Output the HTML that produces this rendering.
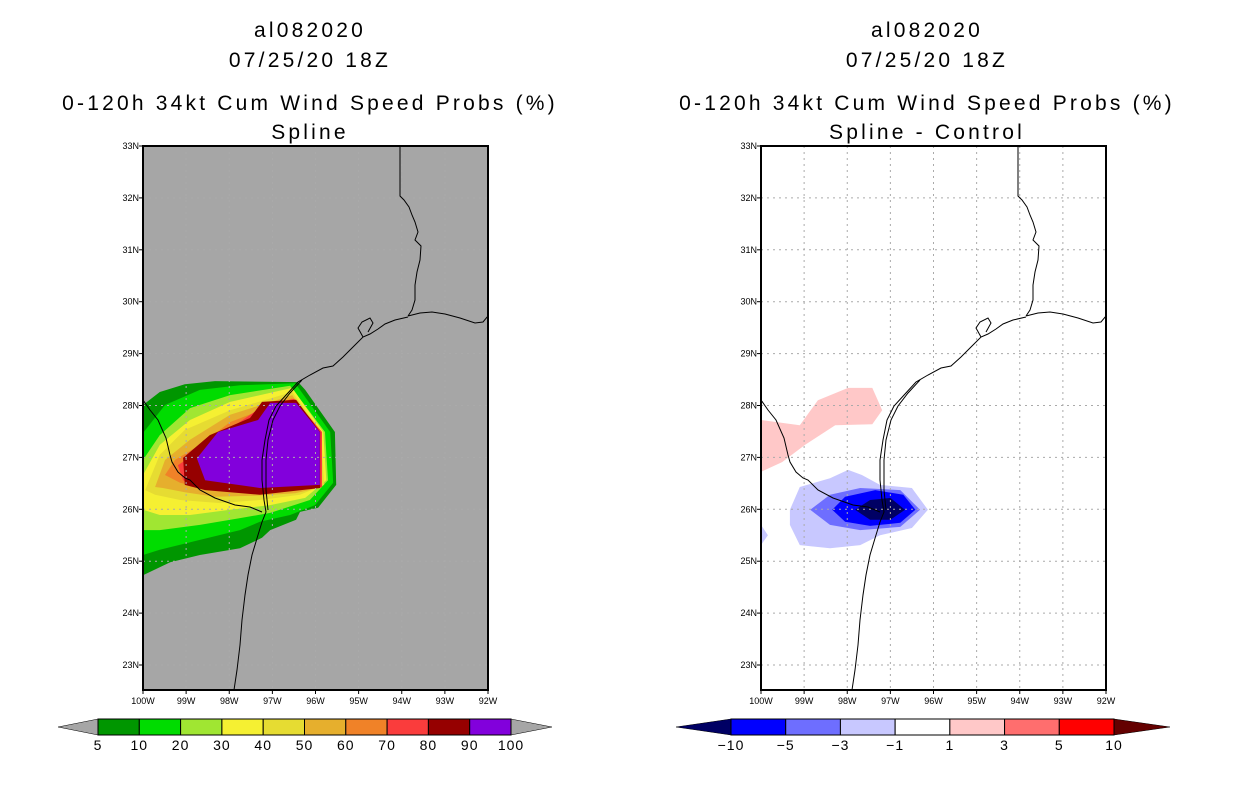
<!DOCTYPE html>
<html><head><meta charset="utf-8"><style>
body{margin:0;background:#fff;width:1236px;height:800px;overflow:hidden}
svg{display:block;font-family:"Liberation Sans",sans-serif}
</style></head><body>
<svg id="s" width="1236" height="800" xmlns="http://www.w3.org/2000/svg">
<defs>
<clipPath id="cl"><rect x="143" y="146" width="345" height="544"/></clipPath>
<clipPath id="cr"><rect x="761" y="146" width="345" height="544"/></clipPath>
</defs>
</svg>
<script>
// ---- data ----
const lonTicks=[100,99,98,97,96,95,94,93,92];
const latTicks=[33,32,31,30,29,28,27,26,25,24,23];
const leftLevels=['5','10','20','30','40','50','60','70','80','90','100'];
const leftColors=['#009600','#00dc00','#a0e632','#f5f032','#e6dc32','#e6af2d','#f08228','#fa3c3c','#960000','#8200dc'];
const rightLevels=['-10','-5','-3','-1','1','3','5','10'];
const rightColors=['#0000ff','#6e6eff','#c8c8ff','#ffffff','#ffc8c8','#ff6e6e','#ff0000'];
// contour polygons (lon W, lat N), outer to inner
const c5=[[100,28.01],[99.61,28.26],[99.03,28.41],[98.33,28.47],[96.4,28.45],[96.24,28.3],[95.55,27.49],[95.52,26.47],[95.94,26.03],[96.36,25.95],[96.45,25.8],[97.05,25.6],[97.24,25.45],[97.75,25.25],[98.68,25.12],[99.37,24.98],[100,24.73]];
const c10=[[100,27.47],[99.49,28.01],[98.68,28.3],[97.75,28.39],[96.47,28.43],[95.66,27.49],[95.59,26.51],[96.01,26.08],[96.59,25.89],[97.29,25.76],[97.75,25.6],[98.68,25.41],[99.61,25.22],[100,25.12]];
const c20=[[100,26.95],[99.61,27.43],[98.91,27.95],[97.98,28.2],[96.59,28.38],[95.78,27.49],[95.71,26.56],[96.13,26.18],[97.05,25.93],[97.75,25.83],[98.68,25.7],[99.61,25.6],[100,25.6]];
const c30=[[100,26.66],[99.61,27.24],[98.91,27.72],[97.98,28.07],[96.54,28.34],[95.82,27.49],[95.75,26.56],[96.24,26.22],[97.05,26.08],[97.98,25.99],[98.91,25.89],[99.61,25.89],[100,25.99]];
const c40=[[99.95,26.37],[99.61,27.05],[99.03,27.53],[97.98,27.91],[96.54,28.26],[95.87,27.49],[95.8,26.47],[96.36,26.28],[97.29,26.18],[98.21,26.12],[99.14,26.18],[99.72,26.28]];
const c50=[[99.72,26.43],[99.49,26.95],[98.91,27.34],[97.98,27.82],[96.54,28.2],[95.92,27.49],[95.85,26.43],[96.47,26.31],[97.4,26.26],[98.33,26.24],[99.03,26.33],[99.54,26.41]];
const c60=[[99.49,26.66],[99.26,26.95],[98.68,27.24],[97.98,27.68],[96.54,28.14],[95.94,27.49],[95.85,26.43],[96.59,26.37],[97.52,26.33],[98.45,26.37],[99.14,26.51]];
const c70=[[99.19,26.85],[98.68,27.14],[97.87,27.62],[97.29,27.95],[96.5,28.13],[95.85,27.49],[95.85,26.43],[97.29,26.33],[98.68,26.41],[99.07,26.56]];
const c80=[[99.07,26.99],[98.45,27.43],[97.52,27.76],[97.24,28.07],[96.45,28.11],[95.89,27.49],[95.89,26.41],[97.29,26.28],[98.56,26.37],[99.03,26.47]];
const c90=[[98.75,26.98],[98.26,27.49],[97.33,27.72],[97.05,28.05],[96.45,28.05],[95.9,27.49],[95.9,26.47],[97.29,26.41],[98.56,26.56]];
const leftContours=[c5,c10,c20,c30,c40,c50,c60,c70,c80,c90];
const pinkA=[[100,27.72],[99.1,27.62],[98.68,28.1],[97.98,28.34],[97.42,28.34],[97.19,27.91],[97.42,27.64],[98.28,27.62],[98.98,27.24],[99.51,26.91],[100,26.72]];
const lb=[[99.33,25.99],[99.1,26.43],[98.4,26.6],[97.98,26.76],[97.66,26.66],[97.24,26.47],[96.5,26.41],[96.13,25.99],[96.5,25.64],[97.24,25.5],[97.7,25.31],[98.4,25.25],[99.1,25.31],[99.33,25.7]];
const lb2=[[100,25.7],[99.84,25.5],[100,25.31]];
const mb=[[98.86,25.99],[98.4,26.28],[97.7,26.41],[96.77,26.37],[96.31,25.99],[96.77,25.66],[97.7,25.6],[98.4,25.7]];
const bb=[[98.35,25.99],[98.05,26.24],[97.35,26.37],[96.7,26.28],[96.42,25.99],[96.77,25.74],[97.47,25.68],[98.05,25.76]];
const nb=[[97.82,25.99],[97.47,26.18],[97.0,26.22],[96.66,25.99],[97.0,25.8],[97.47,25.8]];
const rightContours=[[pinkA,'#ffc8c8'],[lb,'#c8c8ff'],[lb2,'#c8c8ff'],[mb,'#6e6eff'],[bb,'#0000ff'],[nb,'#000064']];

const NS='http://www.w3.org/2000/svg';
const svg=document.getElementById('s');
function mk(t,a,p){const e=document.createElementNS(NS,t);for(const k in a)e.setAttribute(k,a[k]);(p||svg).appendChild(e);return e;}
const PW=345,PH=544,Y0=146;
function xs(x0,lon){return x0+(100-lon)*PW/8;}
function ys(lat){return Y0+(33-lat)*51.9;}
function pts(x0,arr){return arr.map(p=>xs(x0,p[0]).toFixed(1)+','+ys(p[1]).toFixed(1)).join(' ');}

const coast="M400,146 L400,196 404,200 409,207 412,215 415,222 418,232 415,240 421,246 420,260 417,272 415,285 415,300 412,310 408,316 M408,316 L420,313 432,312 445,314 460,318 475,323 483,322 488,316 M408,317 L395,320 385,324 378,329 370,334 363,337 353,347 343,357 333,366 323,368 310,375 298,382 287,394 276,406 269,420 265,440 262,460 262,480 264,500 266,512 262,522 258,535 252,555 248,575 245,595 242,620 240,645 237,670 234,690 M363,337 L358,328 362,322 370,318 373,323 368,332 M302,380 L290,393 280,406 273,420 268,440 266,460 266,490 268,510 M143,400 L150,410 158,420 166,438 170,455 172,462 178,472 185,478 190,480 200,490 215,498 235,505 250,507 262,512";

function panel(x0,side){
  const g=mk('g',{});
  
  
  mk('rect',{x:x0,y:Y0,width:PW,height:PH,fill:side==='left'?'#a6a6a6':'#ffffff'},g);
  const cg=mk('g',{'clip-path':side==='left'?'url(#cl)':'url(#cr)'},g);
  if(side==='left'){
    leftContours.forEach((c,i)=>{const p=mk('polygon',{points:pts(x0,c),fill:leftColors[i]},cg);
      
      });
  } else {
    rightContours.forEach((c,i)=>{const p=mk('polygon',{points:pts(x0,c[0]),fill:c[1]},cg);
      
      });
  }
  lonTicks.slice(1,-1).forEach(l=>{mk('line',{x1:xs(x0,l),x2:xs(x0,l),y1:Y0,y2:Y0+PH,stroke:'#aaa','stroke-dasharray':'2,4','stroke-width':1},cg);});
  latTicks.slice(1).forEach(l=>{mk('line',{x1:x0,x2:x0+PW,y1:ys(l),y2:ys(l),stroke:'#aaa','stroke-dasharray':'2,4','stroke-width':1},cg);});
  const cp=mk('path',{d:coast,fill:'none',stroke:'#000','stroke-width':1,transform:'translate('+(x0-143)+',0)'},cg);
  
  
  mk('rect',{x:x0,y:Y0,width:PW,height:PH,fill:'none',stroke:'#000','stroke-width':2},g);
  latTicks.forEach(l=>{const y=ys(l);
    mk('line',{x1:x0-4,x2:x0,y1:y,y2:y,stroke:'#000'},g);
    const t=mk('text',{x:x0-4,y:y+3,'font-size':9,'text-anchor':'end'},g);t.textContent=l+'N';
    
    });
  lonTicks.forEach(l=>{const x=xs(x0,l);
    mk('line',{x1:x,x2:x,y1:Y0+PH,y2:Y0+PH+4,stroke:'#000'},g);
    const t=mk('text',{x:x,y:Y0+PH+14,'font-size':9,'text-anchor':'middle'},g);t.textContent=l+'W';
    
    });
}
panel(143,'left');panel(761,'right');

function titles(cx,lines,side){
  lines.forEach((s,i)=>{const t=mk('text',{x:cx,y:[37,67,110,139][i],'font-size':21,'text-anchor':'middle','letter-spacing':'3.2'});
    t.textContent=s;
    
    });
}
titles(310,['al082020','07/25/20 18Z','0-120h 34kt Cum Wind Speed Probs (%)','Spline'],'left');
titles(927,['al082020','07/25/20 18Z','0-120h 34kt Cum Wind Speed Probs (%)','Spline - Control'],'right');

function colorbar(xa,xb,n,colors,labels,lc,rc,side){
  const w=(xb-xa)/n;
  const g=mk('g',{});
  
  
  mk('polygon',{points:(xa-(side==='left'?40:55))+',727 '+xa+',719 '+xa+',735',fill:lc,stroke:'#000','stroke-width':0.5},g);
  mk('polygon',{points:(xb+(side==='left'?41:56))+',727 '+xb+',719 '+xb+',735',fill:rc,stroke:'#000','stroke-width':0.5},g);
  colors.forEach((c,i)=>mk('rect',{x:xa+i*w,y:719,width:w,height:16,fill:c,stroke:'#000','stroke-width':1},g));
  labels.forEach((l,i)=>{const t=mk('text',{x:xa+i*w,y:750,'font-size':14,'text-anchor':'middle','letter-spacing':'1'},g);t.textContent=l.replace('-','\u2212');
    
    });
}
colorbar(98,511,10,leftColors,leftLevels,'#a6a6a6','#a6a6a6','left');
colorbar(731,1114,7,rightColors,rightLevels,'#000064','#640000','right');
</script>
</body></html>
